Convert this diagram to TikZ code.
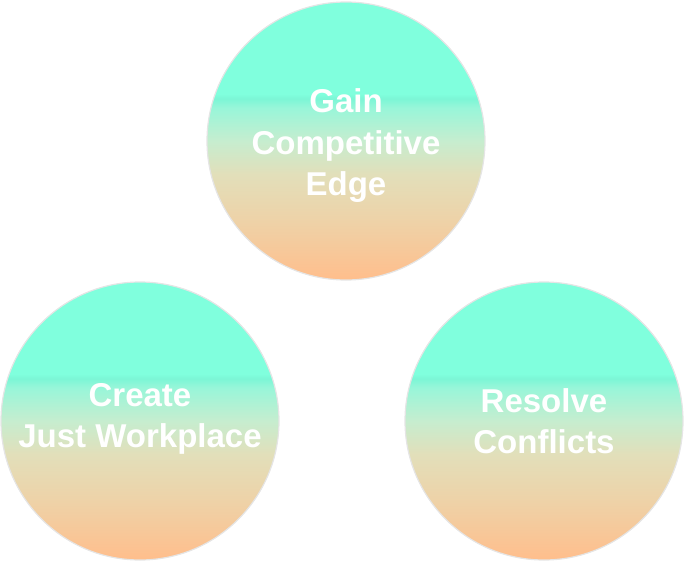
\documentclass[tikz,border=0pt]{standalone}
\usepackage{fontspec}
\setmainfont{Liberation Sans}
\definecolor{aqua}{HTML}{80FFDD}
\definecolor{aquab}{HTML}{7CF6D6}
\definecolor{mintl}{HTML}{98F6D9}
\definecolor{mintm}{HTML}{C6EDCF}
\definecolor{sand}{HTML}{E2DFBA}
\definecolor{sandb}{HTML}{EFD1A6}
\definecolor{peach}{HTML}{FFBE8C}
\pgfdeclareverticalshading{bubble}{100bp}{%
  color(0bp)=(peach); color(25bp)=(peach); color(35bp)=(sandb);
  color(44bp)=(sand); color(50bp)=(mintm); color(56bp)=(mintl);
  color(57.6bp)=(aquab); color(58.5bp)=(aqua); color(75bp)=(aqua); color(100bp)=(aqua)}
\tikzset{
  bubble/.style={circle, minimum size=278pt, inner sep=0pt, shading=bubble,
    draw=black!10, line width=1.2pt},
  bubbletext/.style={text=white, align=center, font=\fontsize{33}{41.5}\selectfont\bfseries}
}
\begin{document}
\begin{tikzpicture}[x=1pt,y=-1pt]
\useasboundingbox (0,0) rectangle (686,562);
\node[bubble] (edge) at (346,141) {};
\node[bubble] (just) at (140,421) {};
\node[bubble] (resolve) at (544,421) {};
\node[bubbletext] (edget) at ([yshift=-5pt]edge.center) {Gain\\Competitive\\Edge};
\node[bubbletext] (justt) at ([yshift=2pt]just.center) {Create\\Just Workplace};
\node[bubbletext] (resolvet) at (resolve.center) {Resolve\\Conflicts};
\end{tikzpicture}
\end{document}
